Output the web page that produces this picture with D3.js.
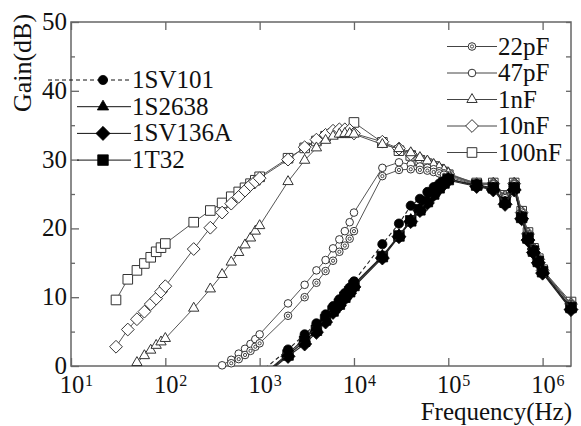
<!DOCTYPE html>
<html>
<head>
<meta charset="utf-8">
<script src="https://cdn.jsdelivr.net/npm/d3@7"></script>
</head>
<body style="margin:0">
<svg id="chart" width="581" height="426"></svg>
<script>
// measurement frequencies (Hz)
const freqs = [30, 40, 50, 60, 70, 80, 90, 100, 200, 300, 400, 500, 600, 700, 800, 900,
  1e3, 2e3, 3e3, 4e3, 5e3, 6e3, 7e3, 8e3, 9e3, 1e4, 2e4, 3e4, 4e4, 5e4, 6e4, 7e4, 8e4, 9e4,
  1e5, 2e5, 3e5, 4e5, 5e5, 6e5, 7e5, 8e5, 9e5, 1e6, 2e6];

// capacitor series (open markers), gains in dB starting at the given frequency
const gain100nF = [9.6, 12.6, 13.9, 14.9, 15.8, 16.6, 17.2, 17.8, 20.9, 22.6, 23.7, 24.6, 25.3, 25.9, 26.5, 27.0,
  27.5, 30.2, 31.7, 32.7, 33.4, 33.8, 33.9, 33.9, 33.9, 35.4, 32.5, 31.3, 30.6, 29.9, 29.4, 29.0, 28.6, 28.2,
  27.8, 26.6, 26.6, 24.8, 26.6, 22.5, 19.4, 17.1, 15.6, 14.0, 9.3];
const gain10nF = [2.8, 5.3, 6.8, 7.9, 9.0, 9.8, 10.8, 11.6, 17.0, 20.1, 22.3, 23.6, 24.6, 25.5, 26.3, 26.8,
  27.3, 30.0, 31.8, 32.9, 33.6, 34.2, 34.4, 34.4, 34.3, 33.8, 32.6, 31.6, 30.8, 30.1, 29.6, 29.1, 28.7, 28.3,
  27.9, 26.4, 26.5, 24.6, 26.5, 22.3, 19.2, 17.0, 15.5, 13.9, 9.0];
const gain1nF = [0.5, 1.5, 2.3, 3.0, 3.5, 4.0, 8.4, 11.2, 13.3, 15.1, 16.5, 17.6, 18.6, 19.6,
  20.4, 26.8, 29.9, 31.7, 32.8, 33.4, 33.7, 33.8, 33.8, 33.7, 32.2, 31.6, 31.0, 30.3, 29.8, 29.3, 28.9, 28.5,
  28.0, 26.5, 26.5, 24.7, 26.5, 22.4, 19.3, 17.0, 15.4, 13.9, 9.0];
const gain47pF = [0.1, 0.9, 1.8, 2.5, 3.2, 3.9,
  4.6, 9.1, 11.8, 13.9, 15.4, 17.1, 18.4, 19.6, 20.9, 22.3, 28.8, 29.6, 29.3, 29.0, 28.8, 28.6, 28.3, 28.0,
  27.7, 26.4, 26.5, 24.6, 26.5, 22.3, 19.2, 17.0, 15.4, 13.9, 9.0];
const gain22pF = [0.4, 1.0, 1.6, 2.2, 2.8,
  3.3, 7.3, 10.0, 12.1, 13.8, 15.3, 16.6, 17.5, 18.5, 19.6, 27.6, 28.5, 28.6, 28.5, 28.4, 28.2, 28.0, 27.8,
  27.5, 26.3, 26.4, 24.4, 26.4, 22.0, 19.0, 16.8, 15.3, 13.8, 8.8];

// diode series (filled markers), starting at 1 kHz
const gain1SV101 = [-1.0, 2.4, 4.6, 6.2, 7.5, 8.7, 9.7, 10.6, 11.4, 12.3, 17.7, 20.7, 23.3, 24.3, 25.3, 26.0, 26.5, 26.9,
  27.2, 26.2, 25.7, 23.6, 25.8, 21.5, 18.4, 16.6, 15.1, 13.6, 8.3];
const gain1S2638 = [-1.7, 1.8, 4.0, 5.6, 7.0, 8.3, 9.3, 10.2, 11.0, 11.9, 16.0, 19.0, 21.2, 22.8, 24.0, 25.1, 26.0, 26.7,
  27.2, 26.2, 25.8, 23.7, 25.8, 21.6, 18.5, 16.7, 15.2, 13.7, 8.4];
const gain1SV136A = [-1.9, 1.4, 3.2, 4.9, 6.4, 7.8, 8.8, 9.8, 10.6, 11.5, 15.7, 18.8, 21.0, 22.6, 23.7, 24.9, 25.8, 26.5,
  27.0, 26.1, 25.6, 23.5, 25.6, 21.4, 18.3, 16.5, 15.0, 13.5, 8.2];
const gain1T32 = [-1.8, 1.6, 3.6, 5.2, 6.7, 8.0, 9.0, 10.0, 10.8, 11.7, 15.9, 18.9, 21.1, 22.7, 23.9, 25.0, 25.9, 26.6,
  27.1, 26.3, 25.9, 23.8, 25.9, 21.6, 18.6, 16.7, 15.2, 13.7, 8.5];

const yTicks = [0, 10, 20, 30, 40, 50];
const yMinor = [5, 15, 25, 35, 45];
const xDecades = [1, 2, 3, 4, 5, 6];

const openSeries = [
  { name: "22pF", start: 500, gains: gain22pF, mark: "dcircle" },
  { name: "47pF", start: 400, gains: gain47pF, mark: "circle" },
  { name: "1nF", start: 50, gains: gain1nF, mark: "triangle" },
  { name: "10nF", start: 30, gains: gain10nF, mark: "diamond" },
  { name: "100nF", start: 30, gains: gain100nF, mark: "square" }
];
const diodeSeries = [
  { name: "1SV101", start: 1000, gains: gain1SV101, mark: "circle", dashed: true },
  { name: "1S2638", start: 1000, gains: gain1S2638, mark: "triangle" },
  { name: "1SV136A", start: 1000, gains: gain1SV136A, mark: "diamond" },
  { name: "1T32", start: 1000, gains: gain1T32, mark: "square" }
];

const svg = d3.select("#chart");
const x = d3.scaleLog().domain([10, 2e6]).range([71, 571]);
const y = d3.scaleLinear().domain([0, 50]).range([366, 22]);

function addText(parent, px, py, str, size, anchor, rot) {
  const t = parent.append("text")
    .attr("x", rot ? 0 : px).attr("y", rot ? 0 : py)
    .attr("font-family", "Liberation Serif")
    .attr("font-size", size)
    .attr("fill", "#111")
    .attr("text-anchor", anchor || "start")
    .text(str);
  if (rot) t.attr("transform", `translate(${px},${py}) rotate(${rot})`);
  return t;
}

function points(s) {
  const i0 = freqs.indexOf(s.start);
  return s.gains.map((g, i) => [freqs[i0 + i], g]);
}

function markerPath(type, filled) {
  const k = filled ? 1.1 : 1;
  if (type === "circle" || type === "dcircle") return d3.symbol(d3.symbolCircle, Math.PI * Math.pow(filled ? 4.6 : 3.8, 2))();
  if (type === "triangle") return d3.symbol(d3.symbolTriangle, 46 * k * k)();
  if (type === "diamond") { const h = 6.4 * k; return `M0,${-h}L${h},0L0,${h}L${-h},0Z`; }
  const h = 4.8 * k; return `M${-h},${-h}h${2 * h}v${2 * h}h${-2 * h}Z`;
}

function drawMarker(g, type, filled) {
  g.append("path")
    .attr("d", markerPath(type, filled))
    .attr("fill", filled ? "#000" : "#fff")
    .attr("stroke", filled ? "#000" : "#333")
    .attr("stroke-width", filled ? 0.8 : 1);
  if (type === "dcircle") {
    g.append("circle").attr("r", 1.6).attr("fill", "none").attr("stroke", "#333").attr("stroke-width", 0.9);
  }
}

const line = d3.line().x(d => x(d[0])).y(d => y(d[1]));

// clip diode curves at 0 dB
svg.append("defs").append("clipPath").attr("id", "clipBottom")
  .append("rect").attr("x", 0).attr("y", 0).attr("width", 581).attr("height", y(0));

// frame
svg.append("rect")
  .attr("x", x.range()[0]).attr("y", y.range()[1])
  .attr("width", x.range()[1] - x.range()[0]).attr("height", y.range()[0] - y.range()[1])
  .attr("fill", "none").attr("stroke", "#666").attr("stroke-width", 1.5);

// axes ticks (inward)
const axisStyle = g => {
  g.select(".domain").remove();
  g.attr("font-family", null).attr("font-size", null);
  g.selectAll(".tick line").attr("stroke", "#666").attr("stroke-width", 1.3);
};
svg.append("g").attr("transform", `translate(${x.range()[0]},0)`)
  .call(d3.axisLeft(y).tickValues(yTicks).tickSize(-8).tickFormat(""))
  .call(axisStyle);
svg.append("g").attr("transform", `translate(${x.range()[0]},0)`)
  .call(d3.axisLeft(y).tickValues(yMinor).tickSize(-4).tickFormat(""))
  .call(axisStyle);
svg.append("g").attr("transform", `translate(${x.range()[1]},0)`)
  .call(d3.axisRight(y).tickValues(yTicks.concat(yMinor)).tickSize(-5).tickFormat(""))
  .call(axisStyle);
const decadeVals = xDecades.map(p => Math.pow(10, p));
svg.append("g").attr("transform", `translate(0,${y.range()[0]})`)
  .call(d3.axisBottom(x).tickValues(decadeVals).tickSize(-8).tickFormat(""))
  .call(axisStyle);
svg.append("g").attr("transform", `translate(0,${y.range()[1]})`)
  .call(d3.axisTop(x).tickValues(decadeVals).tickSize(-8).tickFormat(""))
  .call(axisStyle);

// tick labels
yTicks.forEach(v => addText(svg, 67, y(v) + 8, v, 25, "end"));
xDecades.forEach(p => {
  const px = x(Math.pow(10, p));
  addText(svg, px + 1, 393, "10", 24.5, "middle");
  addText(svg, px + 14, 386, p, 16, "start");
});

// axis titles
addText(svg, 31, 63, "Gain(dB)", 26, "middle", -90);
addText(svg, 572, 419.5, "Frequency(Hz)", 25, "end");

// curves
function drawSeries(parent, s, filled) {
  const pts = points(s);
  const g = parent.append("g");
  g.append("path").datum(pts).attr("d", line).attr("fill", "none")
    .attr("stroke", filled ? "#222" : "#555").attr("stroke-width", filled ? 1.1 : 1)
    .attr("stroke-dasharray", s.dashed ? "4,3" : null);
  g.selectAll("g.pt").data(pts).join("g").attr("class", "pt")
    .attr("transform", d => `translate(${x(d[0])},${y(d[1])})`)
    .each(function () { drawMarker(d3.select(this), s.mark, filled); });
}
const openG = svg.append("g");
openSeries.slice().reverse().forEach(s => drawSeries(openG, s, false));
const diodeG = svg.append("g").attr("clip-path", "url(#clipBottom)");
diodeSeries.slice().reverse().forEach(s => drawSeries(diodeG, s, true));

// legends
function legend(list, filled, x0, x1, xm, top, step) {
  list.forEach((s, i) => {
    const cy = top + i * step;
    const g = svg.append("g");
    g.append("line").attr("x1", s.dashed ? 48 : x0).attr("x2", x1).attr("y1", cy).attr("y2", cy)
      .attr("stroke", filled ? "#111" : "#444").attr("stroke-width", 1)
      .attr("stroke-dasharray", s.dashed ? "4,3" : null);
    const m = g.append("g").attr("transform", `translate(${xm},${cy})`);
    drawMarker(m, s.mark, filled);
    addText(g, x1 + 1, cy + 8, s.name, 25, "start");
  });
}
legend(diodeSeries, true, 77, 131, 103, 80, 26.7);
legend(openSeries, false, 447, 497, 472, 46.5, 26.5);
</script>
</body>
</html>
